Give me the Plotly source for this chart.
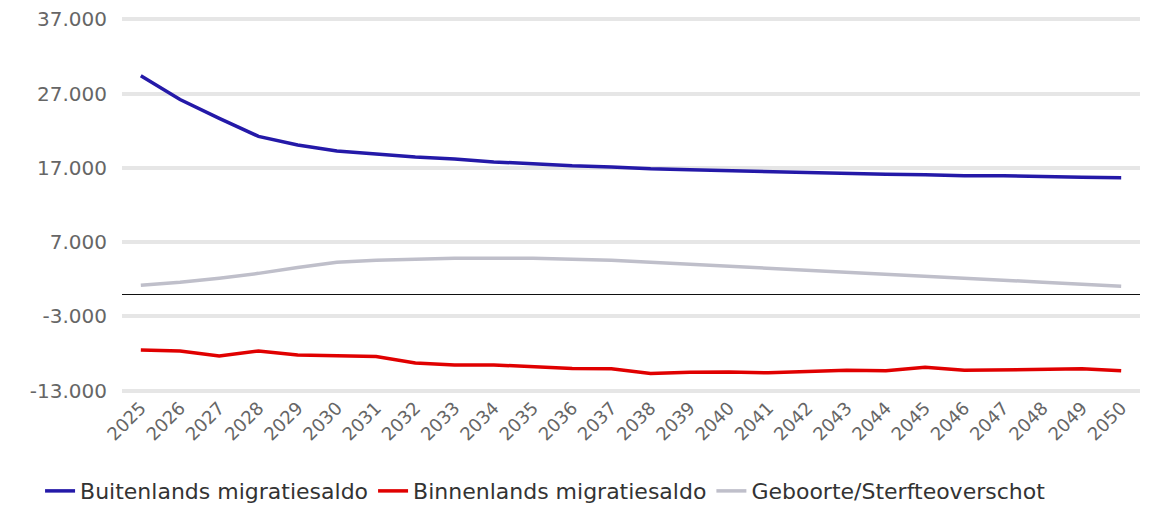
import plotly.graph_objects as go

years = list(range(2025, 2051))

# Buitenlands migratiesaldo (international net migration)
buitenlands = [29400, 26200, 23650, 21240, 20080, 19270, 18880, 18470, 18200, 17800,
               17540, 17270, 17130, 16870, 16730, 16600, 16460, 16330, 16260, 16130,
               16060, 15930, 15930, 15800, 15730, 15660]

# Binnenlands migratiesaldo (domestic net migration)
binnenlands = [-7500, -7640, -8310, -7640, -8180, -8240, -8380, -9250, -9520, -9520,
               -9720, -9990, -10050, -10660, -10520, -10460, -10590, -10390, -10250, -10320,
               -9850, -10250, -10190, -10190, -10050, -10320]

# Geboorte/Sterfteoverschot (natural growth)
geboorte = [1200, 1600, 2150, 2800, 3600, 4300, 4560, 4700, 4830, 4830,
            4830, 4700, 4560, 4300, 4020, 3750, 3490, 3220, 2950, 2680,
            2410, 2150, 1880, 1610, 1340, 1070]

y_ticks = [-13000, -3000, 7000, 17000, 27000, 37000]
y_ticktext = ["-13.000", "-3.000", "7.000", "17.000", "27.000", "37.000"]

font_family = "DejaVu Sans, Open Sans, sans-serif"

fig = go.Figure()

series = [
    ("Buitenlands migratiesaldo", buitenlands, "#2419a8"),
    ("Binnenlands migratiesaldo", binnenlands, "#e00000"),
    ("Geboorte/Sterfteoverschot", geboorte, "#bfbfca"),
]
for name, vals, color in series:
    fig.add_trace(go.Scatter(
        x=years, y=vals, mode="lines", name=name,
        line=dict(color=color, width=3.5),
    ))

# page body has an 8px margin, so the figure is a bit smaller than the window
fig.update_layout(
    width=1145,
    height=497,
    margin=dict(l=114, r=13, t=9, b=112, autoexpand=False),
    paper_bgcolor="white",
    plot_bgcolor="white",
    font=dict(family=font_family, color="#666666"),
    showlegend=True,
    legend=dict(
        orientation="h",
        xref="container", yref="container",
        x=0.028, y=0.028,
        xanchor="left", yanchor="middle",
        font=dict(size=22, color="#333333"),
        itemwidth=30,
        tracegroupgap=0,
    ),
)

fig.update_xaxes(
    range=[2024.52, 2050.48],
    tickmode="array",
    tickvals=years,
    ticktext=[str(y) for y in years],
    tickangle=-45,
    tickfont=dict(size=18, color="#666666"),
    showgrid=False,
    zeroline=False,
    showline=False,
    automargin=False,
)

fig.update_yaxes(
    range=[-13300, 37300],
    tickmode="array",
    tickvals=y_ticks,
    ticktext=y_ticktext,
    tickfont=dict(size=20, color="#666666"),
    showgrid=True,
    gridcolor="#e6e6e6",
    gridwidth=4,
    zeroline=True,
    zerolinecolor="#111111",
    zerolinewidth=1,
    showline=False,
    ticklabelstandoff=14,
    ticklabeloverflow="allow",
    automargin=False,
)

fig.write_html("out.html")
